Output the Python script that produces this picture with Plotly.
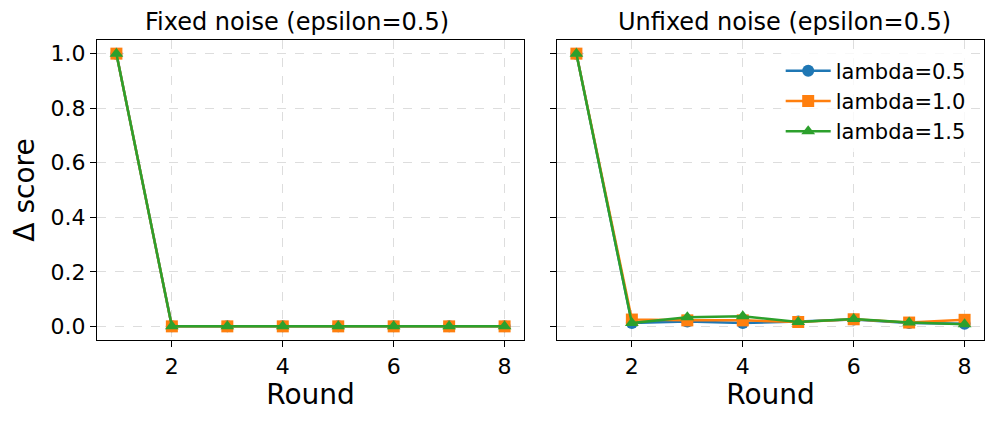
import plotly.graph_objects as go
from plotly.subplots import make_subplots

rounds = [1, 2, 3, 4, 5, 6, 7, 8]
lambdas = ["lambda=0.5", "lambda=1.0", "lambda=1.5"]

fixed_l05 = [1.0, 0.0, 0.0, 0.0, 0.0, 0.0, 0.0, 0.0]
fixed_l10 = [1.0, 0.0, 0.0, 0.0, 0.0, 0.0, 0.0, 0.0]
fixed_l15 = [1.0, 0.0, 0.0, 0.0, 0.0, 0.0, 0.0, 0.0]

unfixed_l05 = [1.0, 0.012, 0.018, 0.012, 0.018, 0.025, 0.012, 0.010]
unfixed_l10 = [1.0, 0.025, 0.022, 0.022, 0.016, 0.026, 0.014, 0.024]
unfixed_l15 = [1.0, 0.012, 0.033, 0.037, 0.016, 0.027, 0.014, 0.008]

colors = ["#1f77b4", "#ff7f0e", "#2ca02c"]
symbols = ["circle", "square", "triangle-up"]

fig = make_subplots(
    rows=1, cols=2, shared_yaxes=True,
    subplot_titles=["Fixed noise (epsilon=0.5)", "Unfixed noise (epsilon=0.5)"],
)

panels = [
    (1, [fixed_l05, fixed_l10, fixed_l15]),
    (2, [unfixed_l05, unfixed_l10, unfixed_l15]),
]
for col, series in panels:
    for name, vals, c, s in zip(lambdas, series, colors, symbols):
        fig.add_trace(
            go.Scatter(
                x=rounds, y=vals, name=name, mode="lines+markers",
                line=dict(color=c, width=2.5),
                marker=dict(color=c, symbol=s, size=12),
                showlegend=(col == 2),
            ),
            row=1, col=col,
        )

axis_common = dict(
    showline=True, mirror=True, linecolor="black", linewidth=1.2,
    ticks="outside", ticklen=6, tickcolor="black",
    showgrid=True, gridcolor="#dddddd", griddash="dash", gridwidth=1,
    zeroline=False, tickfont=dict(size=22, color="black"),
    automargin=False,
)

fig.update_xaxes(
    **axis_common, range=[0.65, 8.35], tickvals=[2, 4, 6, 8],
    title=dict(text="Round", font=dict(size=28, color="black"), standoff=5),
)
fig.update_xaxes(domain=[0, 0.4814], row=1, col=1)
fig.update_xaxes(domain=[0.5186, 1], row=1, col=2)
fig.update_yaxes(**axis_common, range=[-0.05, 1.05], tickvals=[0, 0.2, 0.4, 0.6, 0.8, 1.0],
                 tickformat=".1f")
fig.update_yaxes(title=dict(text="Δ score", font=dict(size=28, color="black"), standoff=8),
                 row=1, col=1)

fig.update_annotations(font=dict(size=24, color="black"), yshift=2)

# the page body has an 8px margin, so the figure is sized to sit inside the window
fig.update_layout(
    width=981, height=405,
    margin=dict(l=89, r=5, t=32, b=73),
    plot_bgcolor="white", paper_bgcolor="white",
    font=dict(family="DejaVu Sans", color="black"),
    legend=dict(
        x=0.985, y=0.965, xanchor="right", yanchor="top",
        font=dict(size=21), bgcolor="rgba(255,255,255,0.8)",
        tracegroupgap=0, itemwidth=45,
    ),
)

fig.write_html("out.html")
